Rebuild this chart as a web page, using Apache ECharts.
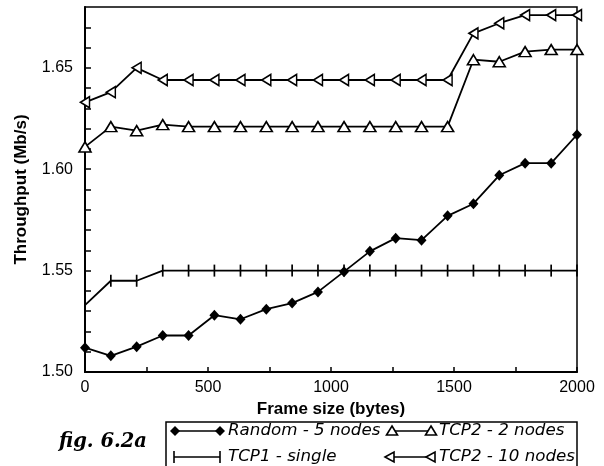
<!DOCTYPE html>
<html>
<head>
<meta charset="utf-8">
<script src="https://cdn.jsdelivr.net/npm/echarts@6/dist/echarts.min.js"></script>
<style>
html, body { margin: 0; background: #fff; }
#chart { width: 604px; height: 466px; }
</style>
</head>
<body>
<div id="chart"></div>
<script>
// frame size (bytes) of each measurement
const frameSizes = [0, 105, 210, 316, 421, 526, 632, 737, 842, 947, 1053, 1158, 1263, 1368, 1474, 1579, 1684, 1789, 1895, 2000]
// throughput (Mb/s)
const random5 = [1.512, 1.508, 1.5125, 1.518, 1.518, 1.528, 1.526, 1.531, 1.534, 1.5395, 1.5495, 1.5595, 1.566, 1.565, 1.577, 1.583, 1.597, 1.603, 1.603, 1.617]
const tcp1Single = [1.533, 1.545, 1.545, 1.55, 1.55, 1.55, 1.55, 1.55, 1.55, 1.55, 1.55, 1.55, 1.55, 1.55, 1.55, 1.55, 1.55, 1.55, 1.55, 1.55]
const tcp2Nodes2 = [1.611, 1.621, 1.619, 1.622, 1.621, 1.621, 1.621, 1.621, 1.621, 1.621, 1.621, 1.621, 1.621, 1.621, 1.621, 1.654, 1.653, 1.658, 1.659, 1.659]
const tcp2Nodes10 = [1.633, 1.638, 1.650, 1.644, 1.644, 1.644, 1.644, 1.644, 1.644, 1.644, 1.644, 1.644, 1.644, 1.644, 1.644, 1.667, 1.672, 1.676, 1.676, 1.676]
const seriesNames = ['Random - 5 nodes', 'TCP1 - single', 'TCP2 - 2 nodes', 'TCP2 - 10 nodes']

function pairs(ys) {
    return frameSizes.map((x, i) => [x, ys[i]])
}

let myChart = echarts.init(document.getElementById('chart'))

const lineStyle = { color: '#000', width: 1.8 }
const labelFont = { color: '#000', fontSize: 16, fontFamily: '"Liberation Sans", Arial, sans-serif' }
const nameFont = { color: '#000', fontSize: 17, fontWeight: 'bold', fontFamily: '"Liberation Sans", Arial, sans-serif' }
const legendFont = 'italic 16.7px "DejaVu Sans", sans-serif'

// legend drawn by hand: two columns, sample line with a marker at each end
function diamond(cx, cy) {
    return { type: 'polygon', shape: { points: [[cx, cy - 5], [cx + 5, cy], [cx, cy + 5], [cx - 5, cy]] }, style: { fill: '#000' } }
}
function plus(cx, cy) {
    return { type: 'line', shape: { x1: cx, y1: cy - 6, x2: cx, y2: cy + 6 }, style: { stroke: '#000', lineWidth: 1.6 } }
}
function triUp(cx, cy) {
    return { type: 'polygon', shape: { points: [[cx, cy - 5], [cx + 5.5, cy + 4], [cx - 5.5, cy + 4]] }, style: { fill: '#fff', stroke: '#000', lineWidth: 1.6 } }
}
function triLeft(cx, cy) {
    return { type: 'polygon', shape: { points: [[cx - 5, cy], [cx + 4, cy - 5], [cx + 4, cy + 5]] }, style: { fill: '#fff', stroke: '#000', lineWidth: 1.6 } }
}
function sample(x1, x2, y, mark, name) {
    return [
        { type: 'line', shape: { x1: x1, y1: y, x2: x2, y2: y }, style: { stroke: '#000', lineWidth: 1.6 } },
        mark(x1, y), mark(x2, y),
        { type: 'text', style: { text: name, x: x2 + 8, y: y, verticalAlign: 'middle', font: legendFont, fill: '#000' } }
    ]
}

let graphics = [
    { type: 'rect', shape: { x: 166, y: 422, width: 411, height: 60 }, style: { fill: 'none', stroke: '#000', lineWidth: 1.5 } },
    { type: 'text', style: { text: 'fig. 6.2a', x: 59, y: 442, verticalAlign: 'middle', font: 'italic bold 19.5px "DejaVu Serif", serif', fill: '#000' } }
]
graphics = graphics
    .concat(sample(175, 220, 431, diamond, seriesNames[0]))
    .concat(sample(174, 220, 457, plus, seriesNames[1]))
    .concat(sample(392, 431, 431, triUp, seriesNames[2]))
    .concat(sample(390, 431, 457, triLeft, seriesNames[3]))

let option = {
    animation: false,
    backgroundColor: '#fff',
    grid: {
        left: 85, right: 27, top: 7, bottom: 94,
        show: true, borderColor: '#000', borderWidth: 1.5,
        outerBoundsMode: 'none'
    },
    xAxis: {
        type: 'value',
        min: 0, max: 2000, interval: 250,
        name: 'Frame size (bytes)', nameLocation: 'middle', nameGap: 28,
        nameTextStyle: nameFont,
        axisLine: { lineStyle: { color: '#000', width: 2 } },
        axisTick: { inside: true, length: 5, lineStyle: { color: '#000', width: 1.5 } },
        axisLabel: Object.assign({
            margin: 8, hideOverlap: false,
            formatter: v => (v % 500 === 0 ? String(v) : '')
        }, labelFont),
        splitLine: { show: false }
    },
    yAxis: {
        type: 'value',
        min: 1.5, max: 1.68, interval: 0.01,
        name: 'Throughput (Mb/s)', nameLocation: 'middle', nameGap: 55,
        nameTextStyle: nameFont,
        axisLine: { lineStyle: { color: '#000', width: 2 } },
        axisTick: { inside: true, length: 6, lineStyle: { color: '#000', width: 1.5 } },
        axisLabel: Object.assign({
            margin: 12, hideOverlap: false, showMaxLabel: false,
            formatter: v => (Math.round(v * 100) % 5 === 0 ? v.toFixed(2) : '')
        }, labelFont),
        splitLine: { show: false }
    },
    series: [
        {
            name: seriesNames[0], type: 'line', data: pairs(random5),
            symbol: 'diamond', symbolSize: [10, 11], showAllSymbol: true,
            lineStyle: lineStyle, itemStyle: { color: '#000' }
        },
        {
            name: seriesNames[1], type: 'line', data: pairs(tcp1Single),
            symbol: 'path://M0,0h1v10h-1z', symbolSize: [1.7, 12], symbolKeepAspect: false, showAllSymbol: true,
            lineStyle: lineStyle, itemStyle: { color: '#000' }
        },
        {
            name: seriesNames[2], type: 'line', data: pairs(tcp2Nodes2),
            symbol: 'triangle', symbolSize: [12, 10], showAllSymbol: true,
            lineStyle: lineStyle, itemStyle: { color: '#fff', borderColor: '#000', borderWidth: 1.6 }
        },
        {
            name: seriesNames[3], type: 'line', data: pairs(tcp2Nodes10),
            symbol: 'triangle', symbolSize: [11, 9], symbolRotate: 90, showAllSymbol: true,
            lineStyle: lineStyle, itemStyle: { color: '#fff', borderColor: '#000', borderWidth: 1.6 }
        }
    ],
    graphic: graphics
}
myChart.setOption(option)
window.addEventListener('resize', function() {
    myChart.resize()
})
</script>
</body>
</html>
